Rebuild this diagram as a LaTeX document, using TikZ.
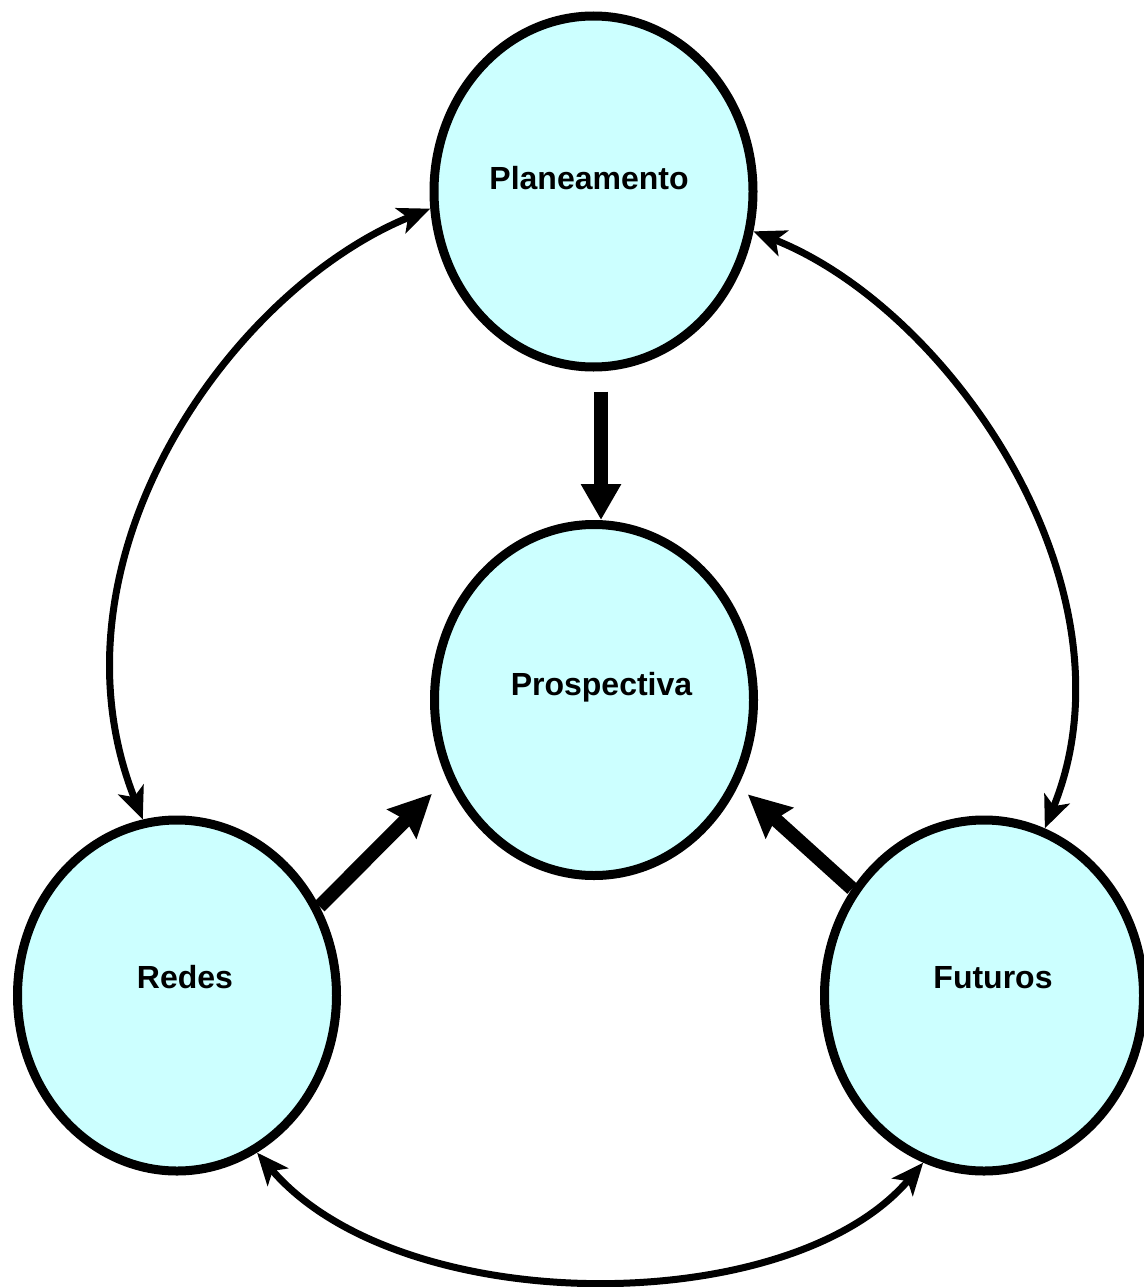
\documentclass[tikz,border=0pt]{standalone}
\usepackage{fontspec}
\setmainfont{Liberation Sans}
\usetikzlibrary{shapes.geometric,arrows.meta,calc}
\definecolor{bubble}{RGB}{204,255,255}
\begin{document}
\begin{tikzpicture}[x=1pt,y=-1pt,
  bubble/.style={ellipse,draw=black,fill=bubble,line width=9pt,
    minimum width=319pt,minimum height=351pt,inner sep=0pt},
  lbl/.style={anchor=base,font=\fontsize{32}{36}\selectfont\bfseries},
  link/.style={line width=7pt,{Stealth[length=32pt,width=27pt,inset=8pt]}-{Stealth[length=32pt,width=27pt,inset=8pt]}},
  feed/.style={line width=14pt,-{Stealth[length=42pt,width=40pt,inset=5pt]}},
  down/.style={line width=14pt,-{Triangle[length=36pt,width=38pt]}}]
\useasboundingbox (0,0) rectangle (1143,1287);

% the four bubbles
\node[bubble] (plan)  at (593.5,191.5) {};
\node[bubble] (prosp) at (594,700) {};
\node[bubble] (redes) at (177,995.5) {};
\node[bubble] (fut)   at (984,995.5) {};

% their captions
\node[lbl] (planT)  at (589,189) {Planeamento};
\node[lbl] (prospT) at (601.5,695) {Prospectiva};
\node[lbl] (redesT) at (185,988) {Redes};
\node[lbl] (futT)   at (993,988) {Futuros};

% outer ring of two-way links
\draw[link] (plan.186.3) .. controls (230,290) and (40,560) .. (redes.101.2);
\draw[link] (plan.346.1) .. controls (952,310) and (1142,590) .. (fut.70.6);
\draw[link] (redes.297.7) .. controls (400,1320) and (790,1320) .. (fut.250.8);

% inward arrows to the centre
\draw[down] ($(plan.south)+(7.5,20)$) -- ($(prosp.north)+(7,0)$);
\draw[feed] (redes.32) -- ($(prosp.210)+(-17,10)$);
\draw[feed] (fut.141.7) -- ($(prosp.329)+(10,8)$);
\end{tikzpicture}
\end{document}
